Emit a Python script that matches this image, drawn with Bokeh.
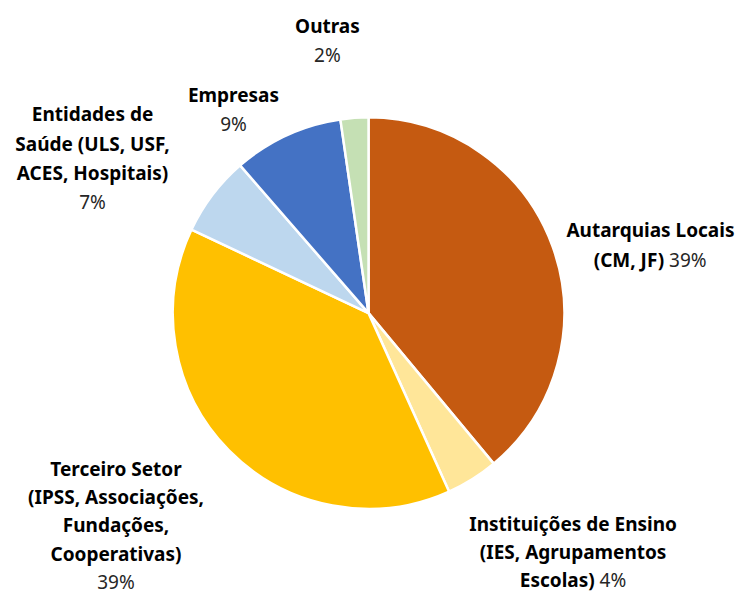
import math
from bokeh.plotting import figure
from bokeh.models import ColumnDataSource, Range1d
from bokeh.core.properties import value
from bokeh.embed import file_html
from bokeh.resources import INLINE

# ---- data ----
categories = [
    "Autarquias Locais (CM, JF)",
    "Instituições de Ensino (IES, Agrupamentos Escolas)",
    "Terceiro Setor (IPSS, Associações, Fundações, Cooperativas)",
    "Entidades de Saúde (ULS, USF, ACES, Hospitais)",
    "Empresas",
    "Outras",
]
shares = [39.0, 4.3, 38.8, 6.6, 9.1, 2.3]
colors = ["#C55A11", "#FFE699", "#FFC000", "#BDD7EE", "#4472C4", "#C5E0B4"]
label_lines = [
    ["Autarquias Locais", "(CM, JF)"],
    ["Instituições de Ensino", "(IES, Agrupamentos", "Escolas)"],
    ["Terceiro Setor", "(IPSS, Associações,", "Fundações,", "Cooperativas)"],
    ["Entidades de", "Saúde (ULS, USF,", "ACES, Hospitais)"],
    ["Empresas"],
    ["Outras"],
]
pct_inline = [True, True, False, False, False, False]

# ---- layout ----
W, H = 740, 598
SX, SY = W / 756, H / 614
FONT = "Noto Sans"
FS = "19px"

def fx(x):
    return x * SX

def fy(y):
    return H - y * SY

# label anchors in reference pixels:
# (center x, first line center y, line height, split x, pct x)
label_pos = [
    (664, 236, 30, 678, 683),
    (585, 537, 29, 607, 612),
    (118, 481, 29, None, None),
    (94, 117, 30, None, None),
    (238, 97, 30, None, None),
    (334, 26, 30, None, None),
]

p = figure(width=W, height=H, output_backend="svg", toolbar_location=None,
           x_range=Range1d(0, W), y_range=Range1d(0, H), min_border=0,
           outline_line_color=None)
p.axis.visible = False
p.grid.visible = False
p.background_fill_color = "white"
p.border_fill_color = "white"

total = sum(shares)
starts, ends = [], []
cum = 0.0
for s in shares:
    starts.append(math.pi / 2 - 2 * math.pi * cum / total)
    cum += s
    ends.append(math.pi / 2 - 2 * math.pi * cum / total)

src = ColumnDataSource(dict(cat=categories, share=shares, color=colors,
                            start=starts, end=ends))
p.wedge(x=fx(376), y=fy(321), radius=200 * SX, start_angle="start", end_angle="end",
        direction="clock", fill_color="color", line_color="white", line_width=2.5,
        source=src)

bx, by, bt = [], [], []
sx_, sy_, st = [], [], []
rx, ry, rt, ra = [], [], [], []
for i, lines in enumerate(label_lines):
    cx, cy, lh, split, px = label_pos[i]
    pct = f"{round(shares[i] / total * 100)}%"
    for j, ln in enumerate(lines):
        y = cy + j * lh
        if pct_inline[i] and j == len(lines) - 1:
            sx_.append(fx(split)); sy_.append(fy(y)); st.append(ln)
            rx.append(fx(px)); ry.append(fy(y)); rt.append(pct); ra.append("left")
        else:
            bx.append(fx(cx)); by.append(fy(y)); bt.append(ln)
    if not pct_inline[i]:
        rx.append(fx(cx)); ry.append(fy(cy + len(lines) * lh)); rt.append(pct); ra.append("center")

common = dict(text_baseline="middle", text_font=value(FONT), text_font_size=FS)
p.text(x=bx, y=by, text=bt, text_align="center", text_font_style="bold",
       text_color="black", **common)
p.text(x=sx_, y=sy_, text=st, text_align="right", text_font_style="bold",
       text_color="black", **common)
p.text(x=rx, y=ry, text=rt, text_align=ra, text_color="#262626", **common)

open("out.html", "w").write(file_html(p, INLINE))
